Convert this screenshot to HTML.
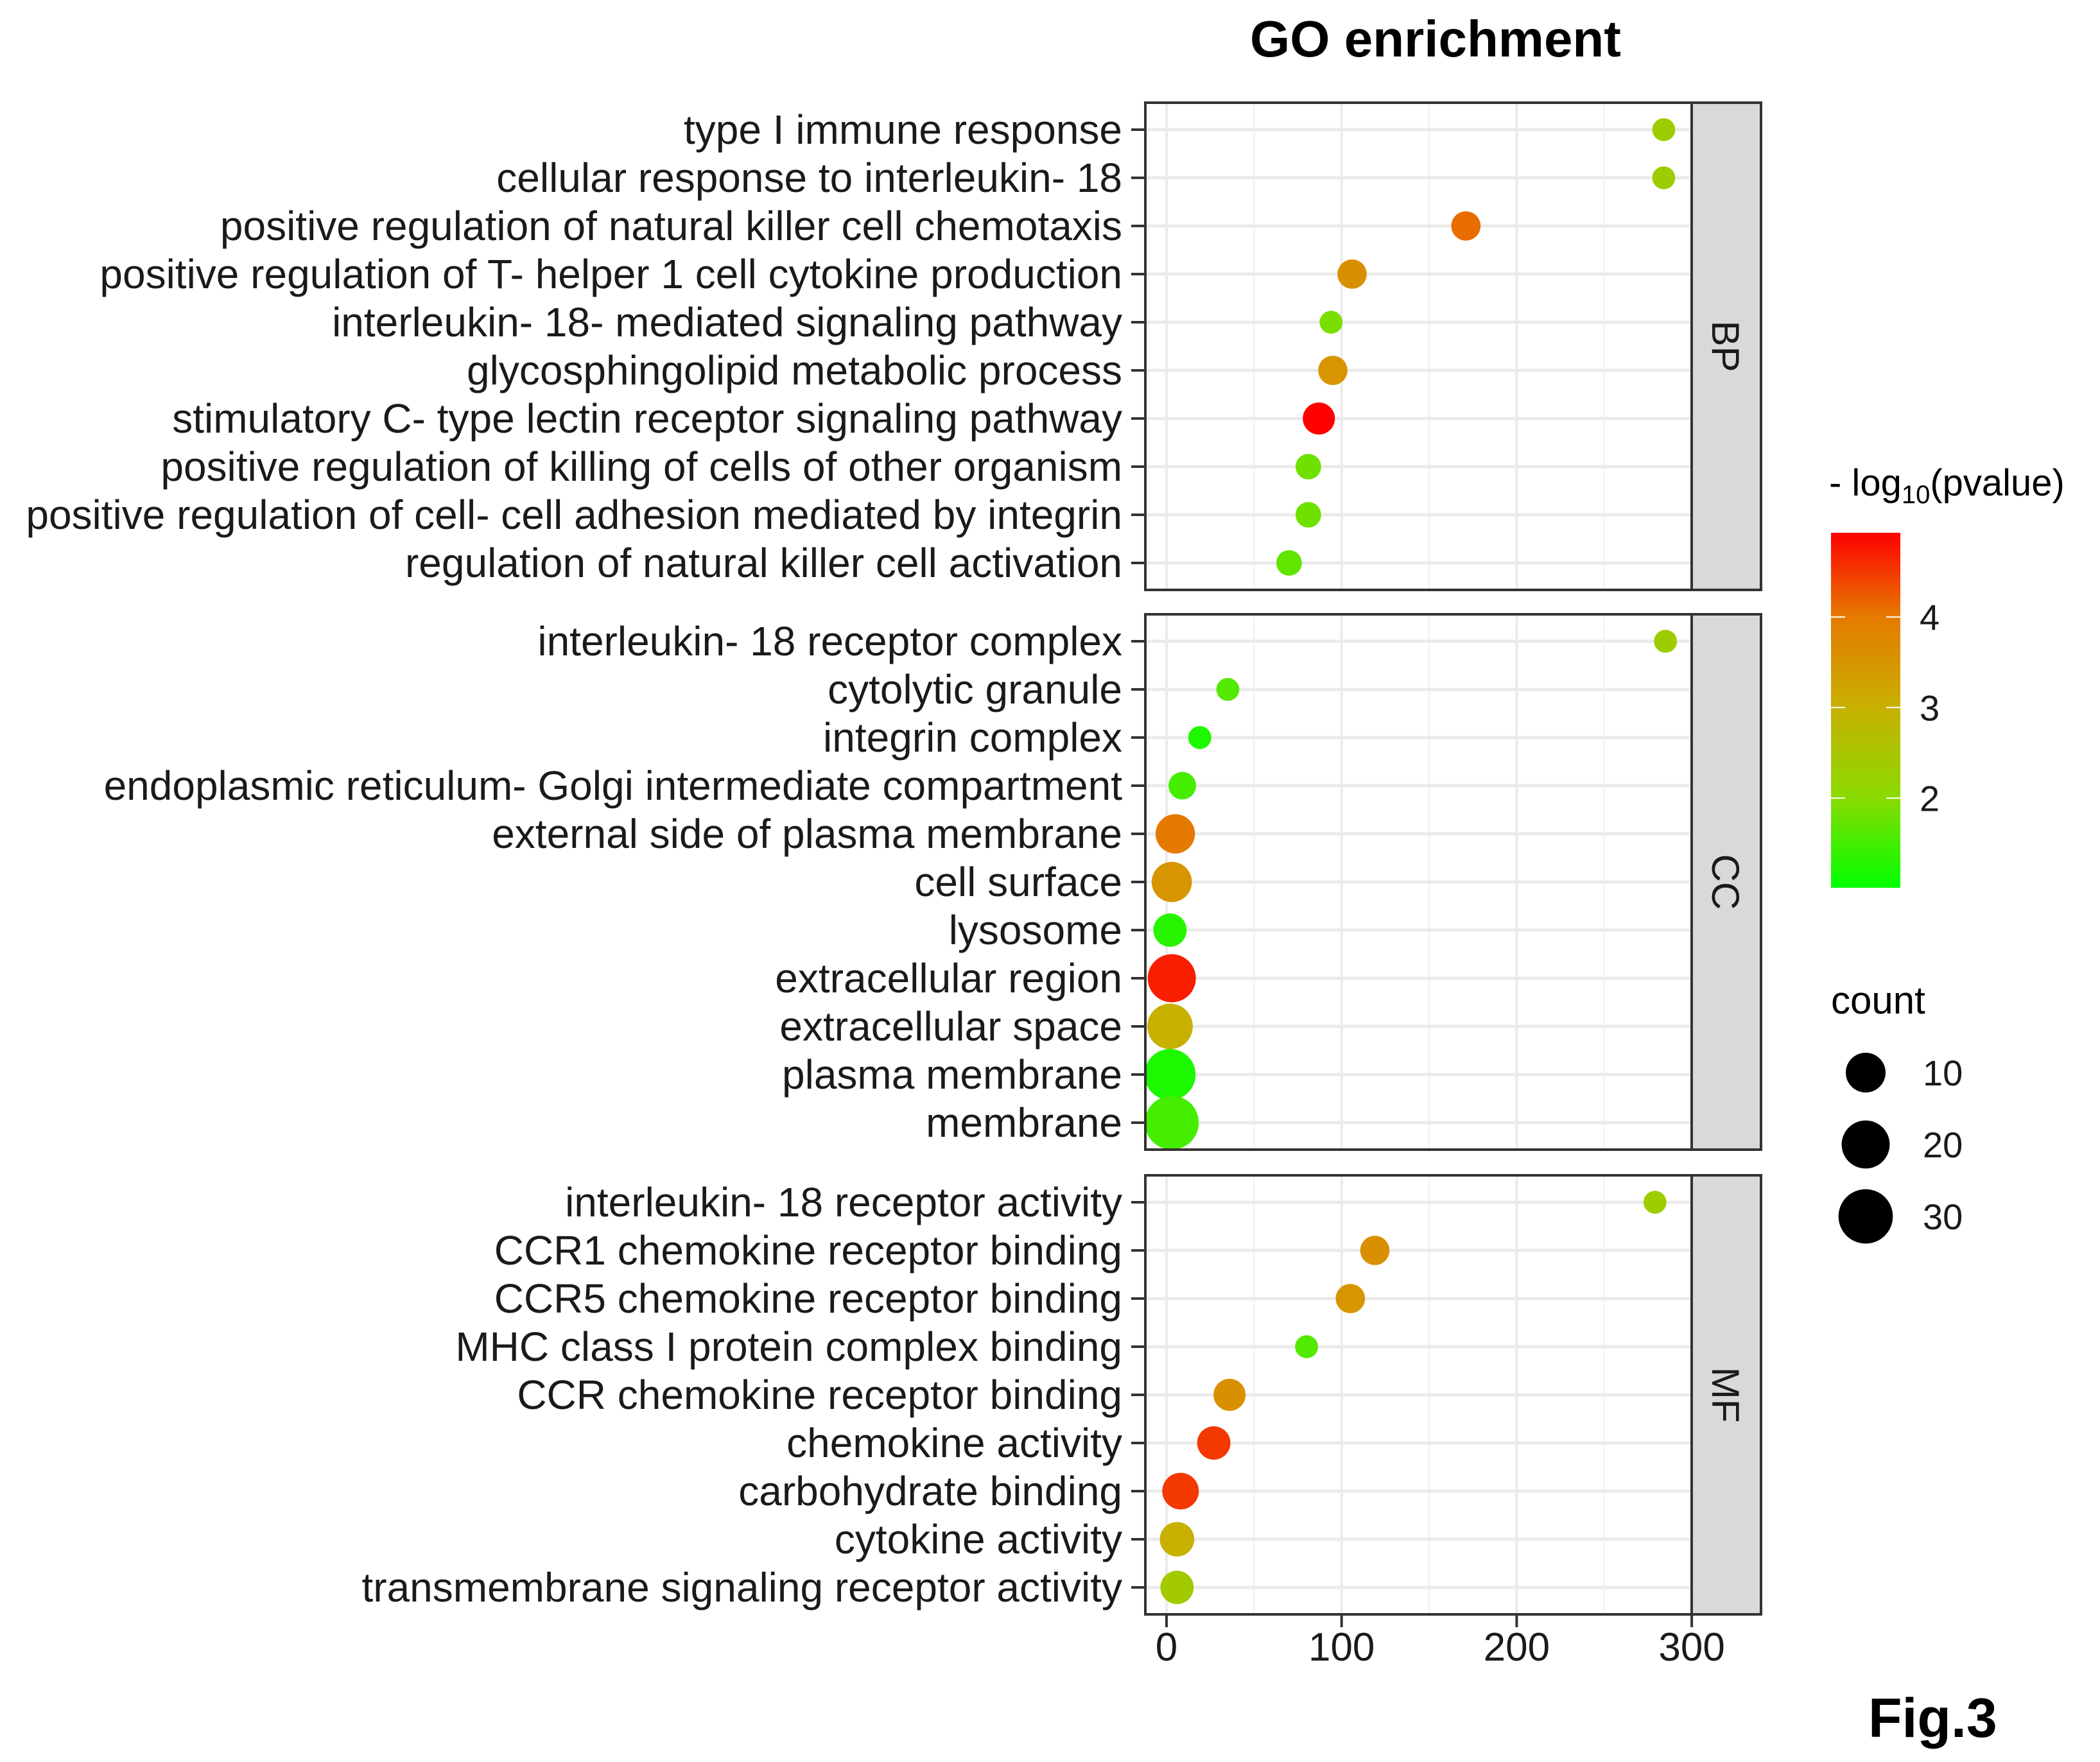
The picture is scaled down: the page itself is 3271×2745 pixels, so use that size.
<!DOCTYPE html>
<html><head><meta charset="utf-8">
<style>html,body{margin:0;padding:0;background:#fff}svg{display:block}</style>
</head><body>
<svg id="chart" width="3271" height="2745" viewBox="0 0 3271 2745" xmlns="http://www.w3.org/2000/svg" font-family="Liberation Sans, Arial, sans-serif"></svg>
<script>
const panelNames = ["BP","CC","MF"];
const bpTerms = ["type I immune response","cellular response to interleukin- 18","positive regulation of natural killer cell chemotaxis","positive regulation of T- helper 1 cell cytokine production","interleukin- 18- mediated signaling pathway","glycosphingolipid metabolic process","stimulatory C- type lectin receptor signaling pathway","positive regulation of killing of cells of other organism","positive regulation of cell- cell adhesion mediated by integrin","regulation of natural killer cell activation"];
const bpX = [284,284,171,106,94,95,87,81,81,70];
const bpCount = [1,1,4,4,1,4,6,2,2,2];
const bpP = [2.3,2.3,4.1,3.6,1.9,3.5,4.93,1.8,1.8,1.7];
const ccTerms = ["interleukin- 18 receptor complex","cytolytic granule","integrin complex","endoplasmic reticulum- Golgi intermediate compartment","external side of plasma membrane","cell surface","lysosome","extracellular region","extracellular space","plasma membrane","membrane"];
const ccX = [285,35,19,9,5,3,2,3,2,2,3];
const ccCount = [1,1,1,3,13,14,7,25,21,30,35];
const ccP = [2.3,1.6,1.2,1.5,4.0,3.5,1.3,4.7,3.0,1.2,1.5];
const mfTerms = ["interleukin- 18 receptor activity","CCR1 chemokine receptor binding","CCR5 chemokine receptor binding","MHC class I protein complex binding","CCR chemokine receptor binding","chemokine activity","carbohydrate binding","cytokine activity","transmembrane signaling receptor activity"];
const mfX = [279,119,105,80,36,27,8,6,6];
const mfCount = [1,4,4,1,6,7,10,8,7];
const mfP = [2.3,3.6,3.5,1.6,3.6,4.5,4.5,3.0,2.4];
const xTicks = [0,100,200,300];
const colorTicks = [2,3,4];
const sizeLegend = [10,20,30];

const NS="http://www.w3.org/2000/svg";
const svg=document.getElementById('chart');
function mk(tag,attrs,parent){const e=document.createElementNS(NS,tag);for(const k in attrs)e.setAttribute(k,attrs[k]);(parent||svg).appendChild(e);return e;}
const X0=1817, XU=2.727, PL=1784, PR=2635, SR=2743, STEP=75, PAD=42;
const panelTops=[160,957,1831];
const xs=v=>X0+v*XU;
const sz=c=>26+9.8*Math.sqrt(c);
const stops=[[1.0,[0,255,0]],[2,[138,218,0]],[3,[200,176,0]],[4,[229,122,0]],[4.93,[255,0,0]]];
function col(p){p=Math.max(1,Math.min(4.93,p));for(let i=0;i<stops.length-1;i++){const a=stops[i],b=stops[i+1];if(p<=b[0]){const t=(p-a[0])/(b[0]-a[0]);const c=a[1].map((v,j)=>Math.round(v+(b[1][j]-v)*t));return `rgb(${c[0]},${c[1]},${c[2]})`;}}return 'rgb(255,0,0)';}

const title=mk('text',{x:2236,y:88,'text-anchor':'middle','font-size':80,'font-weight':'bold',fill:'#000'});
title.textContent='GO enrichment';



const panels=[[bpTerms,bpX,bpCount,bpP],[ccTerms,ccX,ccCount,ccP],[mfTerms,mfX,mfCount,mfP]];
panels.forEach((pd,pi)=>{
  const [terms,xv,cnt,pv]=pd;const n=terms.length;
  const panelTop=panelTops[pi];
  const h=(n-1)*STEP+2*PAD;const bottom=panelTop+h;
  const g=mk('g',{});
  
  
  mk('rect',{x:PL,y:panelTop,width:PR-PL,height:h,fill:'#fff'},g);
  [50,150,250].forEach(v=>mk('line',{x1:xs(v),x2:xs(v),y1:panelTop,y2:bottom,stroke:'#f0f0f0','stroke-width':2},g));
  xTicks.forEach(v=>mk('line',{x1:xs(v),x2:xs(v),y1:panelTop,y2:bottom,stroke:'#ebebeb','stroke-width':4},g));
  terms.forEach((t,i)=>{const y=panelTop+PAD+i*STEP;mk('line',{x1:PL,x2:PR,y1:y,y2:y,stroke:'#ebebeb','stroke-width':5},g);});
  terms.forEach((t,i)=>{
    const y=panelTop+PAD+i*STEP;
    const d=sz(cnt[i]);
    const c=mk('circle',{cx:xs(xv[i]),cy:y,r:d/2,fill:col(pv[i])},g);
    
    
    mk('line',{x1:1762,x2:PL,y1:y,y2:y,stroke:'#333','stroke-width':4},g);
    const lb=mk('text',{x:1748,y:y+22,'text-anchor':'end','font-size':64,fill:'#1a1a1a'},g);
    lb.textContent=t;
    
    
  });
  const strip=mk('rect',{x:PR,y:panelTop,width:SR-PR,height:h,fill:'#d9d9d9'},g);
  
  
  mk('rect',{x:PL,y:panelTop,width:SR-PL,height:h,fill:'none',stroke:'#333','stroke-width':4},g);
  mk('line',{x1:PR,x2:PR,y1:panelTop,y2:bottom,stroke:'#333','stroke-width':4},g);
  const midY=panelTop+h/2;
  const st=mk('text',{x:0,y:0,'text-anchor':'middle','font-size':60,fill:'#1a1a1a',transform:`translate(${(PR+SR)/2-22},${midY}) rotate(90)`},g);
  st.textContent=panelNames[pi];
  
  
  if(pi===2){
    xTicks.forEach(v=>{
      mk('line',{x1:xs(v),x2:xs(v),y1:bottom,y2:bottom+20,stroke:'#333','stroke-width':4},g);
      const tl=mk('text',{x:xs(v),y:bottom+72,'text-anchor':'middle','font-size':62,fill:'#1a1a1a'},g);
      tl.textContent=String(v);
      
      
    });
  }
});

// color legend
const lg=mk('g',{});


const lt=mk('text',{x:2849,y:772,'font-size':58,fill:'#000'},lg);
lt.innerHTML='- log<tspan font-size="40" dy="12">10</tspan><tspan dy="-12">(pvalue)</tspan>';
const defs=mk('defs',{});
const grad=mk('linearGradient',{id:'cg',x1:0,y1:1,x2:0,y2:0},defs);
stops.forEach(s=>{mk('stop',{offset:((s[0]-1)/(3.93)).toFixed(3),'stop-color':`rgb(${s[1].join(',')})`},grad);});
const CB_T=830,CB_B=1383,PMIN=1.01,PMAX=4.93;
const cbY=p=>CB_B-(p-PMIN)/(PMAX-PMIN)*(CB_B-CB_T);
mk('rect',{x:2852,y:CB_T,width:108,height:CB_B-CB_T,fill:'url(#cg)'},lg);
colorTicks.forEach(v=>{
  const y=cbY(v);
  mk('line',{x1:2852,x2:2874,y1:y,y2:y,stroke:'#fff','stroke-width':2},lg);
  mk('line',{x1:2938,x2:2960,y1:y,y2:y,stroke:'#fff','stroke-width':2},lg);
  const t=mk('text',{x:2990,y:y+20,'font-size':56,fill:'#1a1a1a'},lg);
  t.textContent=String(v);
  
  
});
// size legend
const sg=mk('g',{});


const ct=mk('text',{x:2852,y:1579,'font-size':60,fill:'#000'},sg);
ct.textContent='count';
sizeLegend.forEach((v,i)=>{
  const y=1671+i*112;
  const c=mk('circle',{cx:2906,cy:y,r:(sz(v)+5)/2,fill:'#000'},sg);
  
  
  const t=mk('text',{x:2995,y:y+20,'font-size':56,fill:'#1a1a1a'},sg);
  t.textContent=String(v);
  
  
});
const fig=mk('text',{x:2910,y:2706,'font-size':86,'font-weight':'bold',fill:'#000'});
fig.textContent='Fig.3';


</script>
</body></html>
